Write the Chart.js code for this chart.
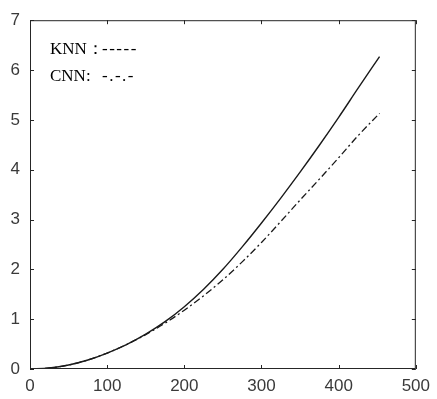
<!DOCTYPE html>
<html>
<head>
<meta charset="utf-8">
<script src="https://cdn.jsdelivr.net/npm/chart.js@4/dist/chart.umd.min.js"></script>
<style>
  html, body { margin: 0; padding: 0; background: #fff; }
  #wrap { width: 437px; height: 399px; }
</style>
</head>
<body>
<div id="wrap"><canvas id="chart" width="437" height="399"></canvas></div>
<script>
// values
const xValues = [0, 25, 50, 75, 100, 125, 150, 175, 200, 225, 250, 275, 300, 325, 350, 375, 400, 425, 453];
const knnValues = [0, 0.02, 0.08, 0.18, 0.32, 0.49, 0.7, 0.95, 1.25, 1.6, 2.0, 2.45, 2.93, 3.43, 3.95, 4.49, 5.05, 5.63, 6.27];
const cnnValues = [0, 0.02, 0.08, 0.18, 0.32, 0.49, 0.69, 0.92, 1.18, 1.47, 1.79, 2.15, 2.54, 2.96, 3.39, 3.81, 4.24, 4.68, 5.13];
const xTicks = [0, 100, 200, 300, 400, 500];
const yTicks = [0, 1, 2, 3, 4, 5, 6, 7];
const legendLines = [
    { name: 'KNN\uFF1A', style: '-----' },
    { name: 'CNN:', style: '-.-.-' }
];

const toPoints = (ys) => ys.map((y, i) => ({ x: xValues[i], y: y }));

// box around the plot with small inward ticks on every side
const boxPlugin = {
    id: 'box',
    afterDraw(chart) {
        const { ctx, chartArea: a, scales } = chart;
        ctx.save();
        ctx.strokeStyle = '#262626';
        ctx.lineWidth = 1;
        ctx.strokeRect(a.left + 0.5, a.top + 0.5, a.right - a.left - 1, a.bottom - a.top - 1);
        ctx.beginPath();
        xTicks.forEach(v => {
            const px = Math.round(scales.x.getPixelForValue(v)) + 0.5;
            ctx.moveTo(px, a.bottom); ctx.lineTo(px, a.bottom - 4);
            ctx.moveTo(px, a.top); ctx.lineTo(px, a.top + 4);
        });
        yTicks.forEach(v => {
            const py = Math.round(scales.y.getPixelForValue(v)) + 0.5;
            ctx.moveTo(a.left, py); ctx.lineTo(a.left + 4, py);
            ctx.moveTo(a.right, py); ctx.lineTo(a.right - 4, py);
        });
        ctx.stroke();

        // text legend in the upper left corner
        ctx.fillStyle = '#000';
        ctx.font = '17px "Liberation Serif", "Times New Roman", serif';
        ctx.textBaseline = 'alphabetic';
        legendLines.forEach((l, i) => {
            const y = a.top + 34 + i * 27;
            ctx.letterSpacing = '0px';
            ctx.fillText(l.name, a.left + 20, y);
            ctx.letterSpacing = '1.5px';
            ctx.fillText(l.style, a.left + 72, y);
        });
        ctx.restore();
    }
};

new Chart(document.getElementById('chart'), {
    type: 'line',
    data: {
        datasets: [
            {
                label: 'KNN',
                data: toPoints(knnValues),
                borderColor: '#1a1a1a',
                borderWidth: 1.4,
                pointRadius: 0,
                cubicInterpolationMode: 'monotone',
                fill: false
            },
            {
                label: 'CNN',
                data: toPoints(cnnValues),
                borderColor: '#1a1a1a',
                borderWidth: 1.3,
                borderDash: [7, 3, 2, 3],
                pointRadius: 0,
                cubicInterpolationMode: 'monotone',
                fill: false
            }
        ]
    },
    options: {
        responsive: false,
        animation: false,
        layout: { padding: { top: 15, right: 18, bottom: 0, left: 0 } },
        plugins: {
            legend: { display: false },
            tooltip: { enabled: false }
        },
        scales: {
            x: {
                type: 'linear',
                min: 0,
                max: 500,
                afterBuildTicks: s => { s.ticks = xTicks.map(v => ({ value: v })); },
                afterFit: s => { s.height = 30; },
                grid: { display: false, drawTicks: false },
                border: { display: false },
                ticks: {
                    color: '#3a3a3a',
                    padding: 7,
                    maxRotation: 0,
                    font: { family: 'Liberation Sans, Arial, sans-serif', size: 17 }
                }
            },
            y: {
                type: 'linear',
                min: 0,
                max: 7,
                afterBuildTicks: s => { s.ticks = yTicks.map(v => ({ value: v })); },
                afterFit: s => { s.width = 30; },
                grid: { display: false, drawTicks: false },
                border: { display: false },
                ticks: {
                    color: '#3a3a3a',
                    padding: 10,
                    font: { family: 'Liberation Sans, Arial, sans-serif', size: 17 }
                }
            }
        }
    },
    plugins: [boxPlugin]
});
</script>
</body>
</html>
